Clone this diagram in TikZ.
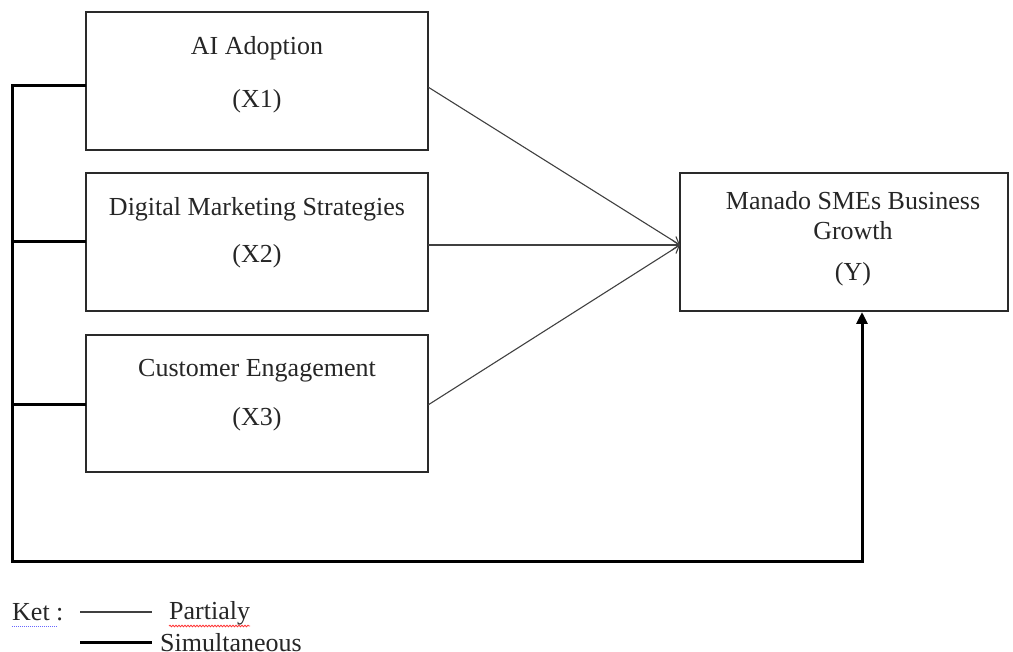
\documentclass[tikz,border=0pt]{standalone}
\usepackage{fontspec}
\setmainfont{Liberation Serif}
\usetikzlibrary{arrows.meta,decorations.pathmorphing}
\definecolor{boxgray}{HTML}{2A2A2A}
\tikzset{
  varbox/.style={draw=boxgray,line width=2pt,inner sep=0pt},
  thinline/.style={draw=black!75,line width=1.1pt},
  thickline/.style={draw=black,line width=3pt},
  lbl/.style={font=\fontsize{26}{30}\selectfont,inner sep=0pt,text=black!85},
}
\begin{document}
\begin{tikzpicture}[x=1pt,y=-1pt]
\useasboundingbox (0,0) rectangle (1013,652);
% boxes
\node[varbox,minimum width=342pt,minimum height=138pt] (x1) at (257,81) {};
\node[varbox,minimum width=342pt,minimum height=138pt] (x2) at (257,242) {};
\node[varbox,minimum width=342pt,minimum height=137pt] (x3) at (257,403.5) {};
\node[varbox,minimum width=328pt,minimum height=138pt] (y) at (844,242) {};
% texts
\node[lbl] (t1a) at (257,48) {AI Adoption};
\node[lbl] (t1b) at (257,101) {(X1)};
\node[lbl] (t2a) at (257,209) {Digital Marketing Strategies};
\node[lbl] (t2b) at (257,256) {(X2)};
\node[lbl] (t3a) at (257,371) {Customer Engagement};
\node[lbl] (t3b) at (257,419) {(X3)};
\node[lbl] (tya) at (853,201) {Manado SMEs Business};
\node[lbl] (tyb) at (853,231) {Growth};
\node[lbl] (tyc) at (853,274) {(Y)};
% partial arrows
\coordinate (tip) at (680,245);
\coordinate (s1) at (428,87);
\coordinate (s2) at (428,245);
\coordinate (s3) at (428,405);
\draw[thinline,-{Straight Barb[length=7pt,width=10pt]}] (s1) -- (tip);
\draw[thinline,-{Straight Barb[length=7pt,width=10pt]}] (s2) -- (tip);
\draw[thinline,-{Straight Barb[length=7pt,width=10pt]}] (s3) -- (tip);
% simultaneous
\coordinate (b1) at (86,86);
\coordinate (b2) at (86,242);
\coordinate (b3) at (86,405);
\coordinate (lt) at (12,86);
\coordinate (lb) at (12,561);
\coordinate (rb) at (862,561);
\coordinate (ye) at (862,311);
\draw[thickline,line join=miter] (b1) -- (lt) -- (lb) -- (rb) -- (862,540);
\draw[thickline,-{Triangle[length=12pt,width=11pt]}] (862,540) -- (y.south-|ye);
\draw[thickline] (b2) -- (12,242);
\draw[thickline] (b3) -- (12,405);
% legend
\node[lbl,anchor=base west] (ket) at (12,620) {Ket :};
\draw[blue!60,line width=1pt,dash pattern=on 1pt off 1pt] (12,626) -- (58,626);
\coordinate (p1) at (80,612);
\coordinate (p2) at (152,612);
\draw[thinline] (p1) -- (p2);
\node[lbl,anchor=base west] (part) at (169,619) {Partialy};
\draw[red!80,line width=0.8pt,decorate,decoration={snake,amplitude=0.8pt,segment length=3pt}] (169,626) -- (250,626);
\coordinate (q1) at (80,642);
\coordinate (q2) at (152,642);
\draw[thickline] (q1) -- (q2);
\node[lbl,anchor=base west] (sim) at (160,651) {Simultaneous};
\end{tikzpicture}
\end{document}
